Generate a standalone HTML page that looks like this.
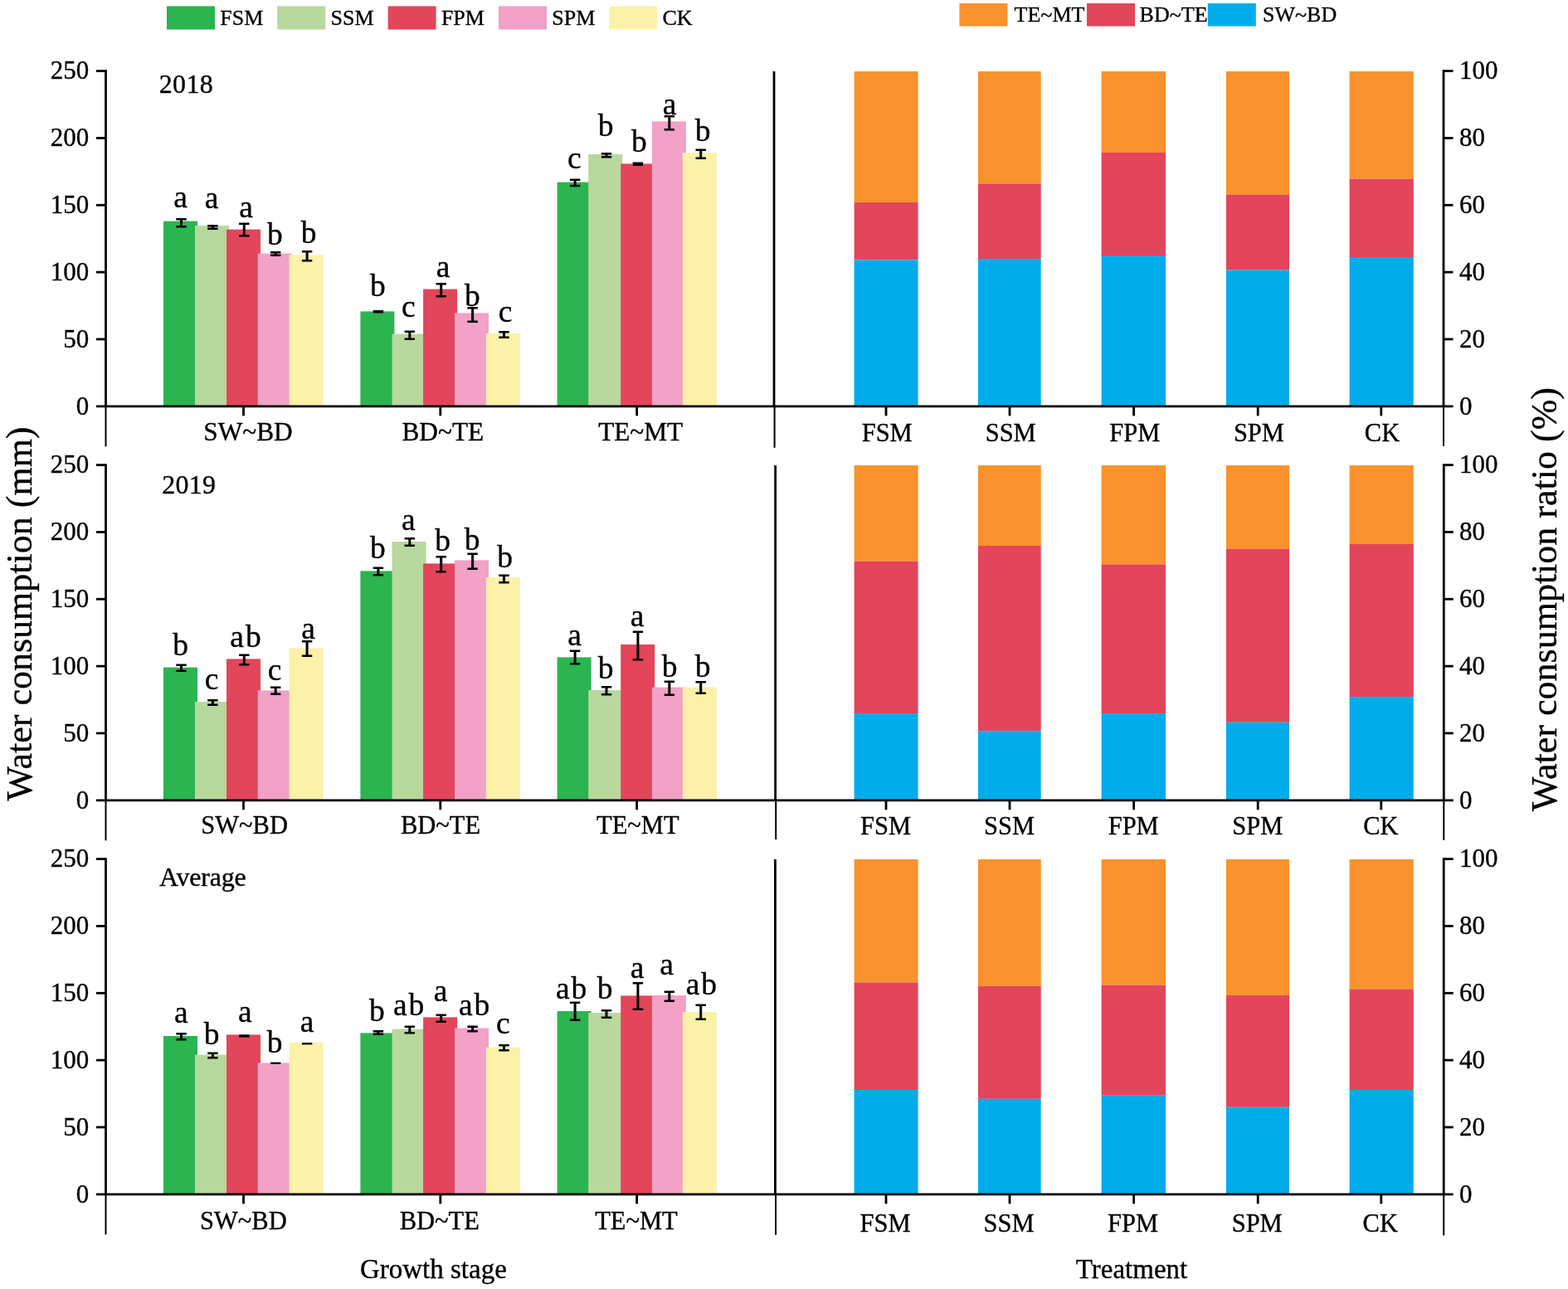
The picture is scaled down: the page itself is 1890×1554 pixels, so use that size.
<!DOCTYPE html>
<html lang="en"><head><meta charset="utf-8">
<title>Water consumption and water consumption ratio by growth stage and treatment</title>
<style>
html,body{margin:0;padding:0;background:#fff;}
body{width:1890px;height:1554px;overflow:hidden;}
svg{display:block;}
text{font-family:"Liberation Serif", "Times New Roman", Times, serif;fill:#000;stroke:#000;stroke-width:0.35px;}
.tk{font-size:31px;}
.xl{font-size:30.5px;text-anchor:middle;}
.lg{font-size:26px;}
.lt{font-size:37.5px;text-anchor:middle;}
.l2{letter-spacing:2px;}
.x1{font-size:31.3px;}
.ti{font-size:44px;text-anchor:middle;}
.bt{font-size:33px;text-anchor:middle;}
.pl{font-size:32px;letter-spacing:0.3px;}
.pa{letter-spacing:-0.2px;}
.ax{stroke:#000;stroke-width:2.8;fill:none;}
.ax2{stroke:#000;stroke-width:2;fill:none;}
.eb{stroke:#000;stroke-width:2.5;fill:none;}
.es{stroke:#000;stroke-width:3;fill:none;}
</style></head><body>
<svg width="1890" height="1554" viewBox="0 0 1890 1554" role="img" aria-label="Water consumption and water consumption ratio charts">
<rect x="0" y="0" width="1890" height="1554" fill="#ffffff"/>
<g id="legend-left">
<rect x="201" y="7.4" width="58" height="28.2" fill="#2cb450"/>
<text class="lg" x="265.3" y="30">FSM</text>
<rect x="334.2" y="7.4" width="58" height="28.2" fill="#b8d89d"/>
<text class="lg" x="398.5" y="30">SSM</text>
<rect x="467.6" y="7.4" width="58" height="28.2" fill="#e3455a"/>
<text class="lg" x="531.9" y="30">FPM</text>
<rect x="601" y="7.4" width="58" height="28.2" fill="#f2a1c7"/>
<text class="lg" x="665.3" y="30">SPM</text>
<rect x="734.2" y="7.4" width="58" height="28.2" fill="#fbf1a9"/>
<text class="lg" x="798.5" y="30">CK</text>
</g>
<g id="legend-right">
<rect x="1156.4" y="4" width="58" height="27.6" fill="#fa922d"/>
<text class="lg" x="1222.6" y="26.4">TE~MT</text>
<rect x="1310" y="4" width="58" height="27.6" fill="#e3455a"/>
<text class="lg" x="1373.6" y="26.4">BD~TE</text>
<rect x="1455.8" y="4" width="58" height="27.6" fill="#00adea"/>
<text class="lg" x="1522" y="26.4">SW~BD</text>
</g>
<g id="panel-1">
<rect x="197" y="266.6" width="41" height="223.2" fill="#2cb450"/>
<rect x="235" y="272" width="41" height="217.8" fill="#b8d89d"/>
<rect x="273" y="276.6" width="41" height="213.2" fill="#e3455a"/>
<rect x="310.7" y="305.6" width="41" height="184.2" fill="#f2a1c7"/>
<rect x="348.6" y="307.4" width="40.9" height="182.4" fill="#fbf1a9"/>
<rect x="434.4" y="375.4" width="41" height="114.4" fill="#2cb450"/>
<rect x="472.6" y="402.6" width="41" height="87.2" fill="#b8d89d"/>
<rect x="510.1" y="348.6" width="41" height="141.2" fill="#e3455a"/>
<rect x="548" y="377.4" width="41" height="112.4" fill="#f2a1c7"/>
<rect x="585.8" y="402" width="41.2" height="87.8" fill="#fbf1a9"/>
<rect x="671.6" y="219.6" width="41" height="270.2" fill="#2cb450"/>
<rect x="709.2" y="186" width="41" height="303.8" fill="#b8d89d"/>
<rect x="748.2" y="197.4" width="41" height="292.4" fill="#e3455a"/>
<rect x="785.9" y="146.4" width="41" height="343.4" fill="#f2a1c7"/>
<rect x="822.8" y="184.4" width="41.2" height="305.4" fill="#fbf1a9"/>
<path class="eb" d="M212.3 264.25H224.7M212.3 273.15H224.7"/>
<path class="es" d="M218.5 264.25V273.15"/>
<path class="eb" d="M250.2 272.25H262.6M250.2 275.75H262.6"/>
<path class="es" d="M256.4 272.25V275.75"/>
<path class="eb" d="M288.1 269.85H300.5M288.1 284.15H300.5"/>
<path class="es" d="M294.3 269.85V284.15"/>
<path class="eb" d="M326 304.25H338.4M326 307.75H338.4"/>
<path class="es" d="M332.2 304.25V307.75"/>
<path class="eb" d="M363.9 303.25H376.3M363.9 314.35H376.3"/>
<path class="es" d="M370.1 303.25V314.35"/>
<path class="eb" d="M449.7 375.25H462.1M449.7 376.35H462.1"/>
<path class="es" d="M455.9 375.25V376.35"/>
<path class="eb" d="M487.6 399.85H500M487.6 408.75H500"/>
<path class="es" d="M493.8 399.85V408.75"/>
<path class="eb" d="M525.5 342.25H537.9M525.5 357.15H537.9"/>
<path class="es" d="M531.7 342.25V357.15"/>
<path class="eb" d="M563.4 371.25H575.8M563.4 387.75H575.8"/>
<path class="es" d="M569.6 371.25V387.75"/>
<path class="eb" d="M601.3 400.25H613.7M601.3 406.75H613.7"/>
<path class="es" d="M607.5 400.25V406.75"/>
<path class="eb" d="M686.9 216.85H699.3M686.9 223.95H699.3"/>
<path class="es" d="M693.1 216.85V223.95"/>
<path class="eb" d="M724.8 185.25H737.2M724.8 189.35H737.2"/>
<path class="es" d="M731 185.25V189.35"/>
<path class="eb" d="M762.7 196.85H775.1M762.7 198.75H775.1"/>
<path class="es" d="M768.9 196.85V198.75"/>
<path class="eb" d="M800.6 140.25H813M800.6 156.15H813"/>
<path class="es" d="M806.8 140.25V156.15"/>
<path class="eb" d="M838.5 180.65H850.9M838.5 190.75H850.9"/>
<path class="es" d="M844.7 180.65V190.75"/>
<text class="lt" x="217.6" y="249.7">a</text>
<text class="lt" x="255" y="250.7">a</text>
<text class="lt" x="296.6" y="261.7">a</text>
<text class="lt" x="331.4" y="294.7">b</text>
<text class="lt" x="372" y="292.7">b</text>
<text class="lt" x="455.4" y="356.7">b</text>
<text class="lt" x="492.4" y="381.7">c</text>
<text class="lt" x="534" y="334.3">a</text>
<text class="lt" x="569.4" y="368.7">b</text>
<text class="lt" x="609" y="388.3">c</text>
<text class="lt" x="692.4" y="202.7">c</text>
<text class="lt" x="730" y="163.7">b</text>
<text class="lt" x="770.4" y="183.1">b</text>
<text class="lt" x="807" y="138.3">a</text>
<text class="lt" x="847" y="170.3">b</text>
<rect x="1029.6" y="86" width="77" height="158" fill="#fa922d"/>
<rect x="1029.6" y="244" width="77" height="69.4" fill="#e3455a"/>
<rect x="1029.6" y="313.4" width="77" height="176.4" fill="#00adea"/>
<rect x="1179" y="86" width="75.7" height="135.4" fill="#fa922d"/>
<rect x="1179" y="221.4" width="75.7" height="90.6" fill="#e3455a"/>
<rect x="1179" y="312" width="75.7" height="177.8" fill="#00adea"/>
<rect x="1327.6" y="86" width="77.5" height="98" fill="#fa922d"/>
<rect x="1327.6" y="184" width="77.5" height="124" fill="#e3455a"/>
<rect x="1327.6" y="308" width="77.5" height="181.8" fill="#00adea"/>
<rect x="1478" y="86" width="76" height="148.6" fill="#fa922d"/>
<rect x="1478" y="234.6" width="76" height="91" fill="#e3455a"/>
<rect x="1478" y="325.6" width="76" height="164.2" fill="#00adea"/>
<rect x="1626.6" y="86" width="77.2" height="129.6" fill="#fa922d"/>
<rect x="1626.6" y="215.6" width="77.2" height="94.4" fill="#e3455a"/>
<rect x="1626.6" y="310" width="77.2" height="179.8" fill="#00adea"/>
<path class="ax" d="M116 489.8H1751.5"/>
<path class="ax" d="M127.5 84.2V489.8"/>
<path class="ax" d="M933 86V489.8"/>
<path class="ax" d="M1740 84.2V489.8"/>
<path class="ax2" d="M127.5 489.8V538.3"/>
<path class="ax2" d="M933.6 489.8V539.8"/>
<path class="ax2" d="M1740 489.8V537.8"/>
<text class="tk" text-anchor="end" x="107.3" y="499.6">0</text>
<path class="ax" d="M116 408.96H127.5"/>
<text class="tk" text-anchor="end" x="107.3" y="418.76">50</text>
<path class="ax" d="M116 328.12H127.5"/>
<text class="tk" text-anchor="end" x="107.3" y="337.92">100</text>
<path class="ax" d="M116 247.28H127.5"/>
<text class="tk" text-anchor="end" x="107.3" y="257.08">150</text>
<path class="ax" d="M116 166.44H127.5"/>
<text class="tk" text-anchor="end" x="107.3" y="176.24">200</text>
<path class="ax" d="M116 85.6H127.5"/>
<text class="tk" text-anchor="end" x="107.3" y="95.4">250</text>
<text class="tk" x="1759" y="499.6">0</text>
<path class="ax" d="M1740 408.96H1751.5"/>
<text class="tk" x="1759" y="418.76">20</text>
<path class="ax" d="M1740 328.12H1751.5"/>
<text class="tk" x="1759" y="337.92">40</text>
<path class="ax" d="M1740 247.28H1751.5"/>
<text class="tk" x="1759" y="257.08">60</text>
<path class="ax" d="M1740 166.44H1751.5"/>
<text class="tk" x="1759" y="176.24">80</text>
<path class="ax" d="M1740 85.6H1751.5"/>
<text class="tk" x="1759" y="95.4">100</text>
<path class="ax" d="M293.5 489.8V501.3"/>
<path class="ax" d="M530.8 489.8V501.3"/>
<path class="ax" d="M767.6 489.8V501.3"/>
<path class="ax" d="M1068 489.8V501.3"/>
<path class="ax" d="M1217 489.8V501.3"/>
<path class="ax" d="M1366.6 489.8V501.3"/>
<path class="ax" d="M1516.2 489.8V501.3"/>
<path class="ax" d="M1664.8 489.8V501.3"/>
<text class="xl x1" x="299" y="530.5">SW~BD</text>
<text class="xl x1" x="533.8" y="530.5">BD~TE</text>
<text class="xl x1" x="772.2" y="530.5">TE~MT</text>
<text class="xl" x="1069.2" y="531.6">FSM</text>
<text class="xl" x="1218.2" y="531.6">SSM</text>
<text class="xl" x="1367.8" y="531.6">FPM</text>
<text class="xl" x="1517.4" y="531.6">SPM</text>
<text class="xl" x="1666" y="531.6">CK</text>
<text class="pl" x="191.8" y="112.4">2018</text>
</g>
<g id="panel-2">
<rect x="197" y="804.6" width="41" height="160.2" fill="#2cb450"/>
<rect x="235" y="846" width="41" height="118.8" fill="#b8d89d"/>
<rect x="273" y="794.4" width="41" height="170.4" fill="#e3455a"/>
<rect x="310.7" y="832.4" width="41" height="132.4" fill="#f2a1c7"/>
<rect x="348.6" y="781.4" width="40.9" height="183.4" fill="#fbf1a9"/>
<rect x="434.4" y="688.4" width="41" height="276.4" fill="#2cb450"/>
<rect x="472.6" y="653" width="41" height="311.8" fill="#b8d89d"/>
<rect x="510.1" y="679.4" width="41" height="285.4" fill="#e3455a"/>
<rect x="548" y="675.4" width="41" height="289.4" fill="#f2a1c7"/>
<rect x="585.8" y="696" width="41.2" height="268.8" fill="#fbf1a9"/>
<rect x="671.6" y="792.4" width="41" height="172.4" fill="#2cb450"/>
<rect x="709.2" y="832" width="41" height="132.8" fill="#b8d89d"/>
<rect x="748.2" y="777" width="41" height="187.8" fill="#e3455a"/>
<rect x="785.9" y="828.6" width="41" height="136.2" fill="#f2a1c7"/>
<rect x="822.8" y="828.6" width="41.2" height="136.2" fill="#fbf1a9"/>
<path class="eb" d="M212.3 801.65H224.7M212.3 808.75H224.7"/>
<path class="es" d="M218.5 801.65V808.75"/>
<path class="eb" d="M250.2 844.25H262.6M250.2 849.75H262.6"/>
<path class="es" d="M256.4 844.25V849.75"/>
<path class="eb" d="M288.1 789.85H300.5M288.1 801.15H300.5"/>
<path class="es" d="M294.3 789.85V801.15"/>
<path class="eb" d="M326 828.65H338.4M326 836.75H338.4"/>
<path class="es" d="M332.2 828.65V836.75"/>
<path class="eb" d="M363.9 773.25H376.3M363.9 790.75H376.3"/>
<path class="es" d="M370.1 773.25V790.75"/>
<path class="eb" d="M449.7 684.85H462.1M449.7 693.35H462.1"/>
<path class="es" d="M455.9 684.85V693.35"/>
<path class="eb" d="M487.6 649.25H500M487.6 657.75H500"/>
<path class="es" d="M493.8 649.25V657.75"/>
<path class="eb" d="M525.5 671.25H537.9M525.5 689.15H537.9"/>
<path class="es" d="M531.7 671.25V689.15"/>
<path class="eb" d="M563.4 667.65H575.8M563.4 685.75H575.8"/>
<path class="es" d="M569.6 667.65V685.75"/>
<path class="eb" d="M601.3 693.85H613.7M601.3 702.35H613.7"/>
<path class="es" d="M607.5 693.85V702.35"/>
<path class="eb" d="M686.9 784.85H699.3M686.9 800.35H699.3"/>
<path class="es" d="M693.1 784.85V800.35"/>
<path class="eb" d="M724.8 828.25H737.2M724.8 837.15H737.2"/>
<path class="es" d="M731 828.25V837.15"/>
<path class="eb" d="M762.7 761.85H775.1M762.7 795.35H775.1"/>
<path class="es" d="M768.9 761.85V795.35"/>
<path class="eb" d="M800.6 821.85H813M800.6 837.75H813"/>
<path class="es" d="M806.8 821.85V837.75"/>
<path class="eb" d="M838.5 822.25H850.9M838.5 835.75H850.9"/>
<path class="es" d="M844.7 822.25V835.75"/>
<text class="lt" x="217.6" y="789.7">b</text>
<text class="lt" x="255" y="830.7">c</text>
<text class="lt l2" x="297" y="780.1">ab</text>
<text class="lt" x="331" y="819.7">c</text>
<text class="lt" x="371.6" y="769.7">a</text>
<text class="lt" x="455.4" y="672.7">b</text>
<text class="lt" x="492.4" y="638.7">a</text>
<text class="lt" x="533.6" y="664.1">b</text>
<text class="lt" x="569" y="662.7">b</text>
<text class="lt" x="608.6" y="683.7">b</text>
<text class="lt" x="692.6" y="777.7">a</text>
<text class="lt" x="730.2" y="817.7">b</text>
<text class="lt" x="768" y="755.3">a</text>
<text class="lt" x="807" y="816.1">b</text>
<text class="lt" x="847" y="816.1">b</text>
<rect x="1029.6" y="561" width="77" height="115.8" fill="#fa922d"/>
<rect x="1029.6" y="676.8" width="77" height="183.2" fill="#e3455a"/>
<rect x="1029.6" y="860" width="77" height="104.8" fill="#00adea"/>
<rect x="1179" y="561" width="75.7" height="97" fill="#fa922d"/>
<rect x="1179" y="658" width="75.7" height="223.2" fill="#e3455a"/>
<rect x="1179" y="881.2" width="75.7" height="83.6" fill="#00adea"/>
<rect x="1327.6" y="561" width="77.5" height="119.4" fill="#fa922d"/>
<rect x="1327.6" y="680.4" width="77.5" height="179.6" fill="#e3455a"/>
<rect x="1327.6" y="860" width="77.5" height="104.8" fill="#00adea"/>
<rect x="1478" y="561" width="76" height="100.6" fill="#fa922d"/>
<rect x="1478" y="661.6" width="76" height="209.2" fill="#e3455a"/>
<rect x="1478" y="870.8" width="76" height="94" fill="#00adea"/>
<rect x="1626.6" y="561" width="77.2" height="95" fill="#fa922d"/>
<rect x="1626.6" y="656" width="77.2" height="184" fill="#e3455a"/>
<rect x="1626.6" y="840" width="77.2" height="124.8" fill="#00adea"/>
<path class="ax" d="M116 964.8H1751.8"/>
<path class="ax" d="M127.5 559.2V964.8"/>
<path class="ax" d="M934.6 561V964.8"/>
<path class="ax" d="M1740.3 559.2V964.8"/>
<path class="ax2" d="M127.5 964.8V1013.3"/>
<path class="ax2" d="M935.2 964.8V1012"/>
<path class="ax2" d="M1740.3 964.8V1012.8"/>
<text class="tk" text-anchor="end" x="107.3" y="974.6">0</text>
<path class="ax" d="M116 883.96H127.5"/>
<text class="tk" text-anchor="end" x="107.3" y="893.76">50</text>
<path class="ax" d="M116 803.12H127.5"/>
<text class="tk" text-anchor="end" x="107.3" y="812.92">100</text>
<path class="ax" d="M116 722.28H127.5"/>
<text class="tk" text-anchor="end" x="107.3" y="732.08">150</text>
<path class="ax" d="M116 641.44H127.5"/>
<text class="tk" text-anchor="end" x="107.3" y="651.24">200</text>
<path class="ax" d="M116 560.6H127.5"/>
<text class="tk" text-anchor="end" x="107.3" y="570.4">250</text>
<text class="tk" x="1759" y="974.6">0</text>
<path class="ax" d="M1740.3 883.96H1751.8"/>
<text class="tk" x="1759" y="893.76">20</text>
<path class="ax" d="M1740.3 803.12H1751.8"/>
<text class="tk" x="1759" y="812.92">40</text>
<path class="ax" d="M1740.3 722.28H1751.8"/>
<text class="tk" x="1759" y="732.08">60</text>
<path class="ax" d="M1740.3 641.44H1751.8"/>
<text class="tk" x="1759" y="651.24">80</text>
<path class="ax" d="M1740.3 560.6H1751.8"/>
<text class="tk" x="1759" y="570.4">100</text>
<path class="ax" d="M293.5 964.8V976.3"/>
<path class="ax" d="M530.8 964.8V976.3"/>
<path class="ax" d="M767.6 964.8V976.3"/>
<path class="ax" d="M1068 964.8V976.3"/>
<path class="ax" d="M1217 964.8V976.3"/>
<path class="ax" d="M1366.6 964.8V976.3"/>
<path class="ax" d="M1516.2 964.8V976.3"/>
<path class="ax" d="M1664.8 964.8V976.3"/>
<text class="xl" x="294.6" y="1005.2">SW~BD</text>
<text class="xl" x="531" y="1005.2">BD~TE</text>
<text class="xl" x="768.8" y="1005.2">TE~MT</text>
<text class="xl" x="1067.6" y="1006">FSM</text>
<text class="xl" x="1216.6" y="1006">SSM</text>
<text class="xl" x="1366.2" y="1006">FPM</text>
<text class="xl" x="1515.8" y="1006">SPM</text>
<text class="xl" x="1664.4" y="1006">CK</text>
<text class="pl" x="195.2" y="595.3">2019</text>
</g>
<g id="panel-3">
<rect x="197" y="1249" width="41" height="190.8" fill="#2cb450"/>
<rect x="235" y="1271.6" width="41" height="168.2" fill="#b8d89d"/>
<rect x="273" y="1247.4" width="41" height="192.4" fill="#e3455a"/>
<rect x="310.7" y="1281.4" width="41" height="158.4" fill="#f2a1c7"/>
<rect x="348.6" y="1257" width="40.9" height="182.8" fill="#fbf1a9"/>
<rect x="434.4" y="1245.4" width="41" height="194.4" fill="#2cb450"/>
<rect x="472.6" y="1240.6" width="41" height="199.2" fill="#b8d89d"/>
<rect x="510.1" y="1226.4" width="41" height="213.4" fill="#e3455a"/>
<rect x="548" y="1239.6" width="41" height="200.2" fill="#f2a1c7"/>
<rect x="585.8" y="1262.6" width="41.2" height="177.2" fill="#fbf1a9"/>
<rect x="671.6" y="1219" width="41" height="220.8" fill="#2cb450"/>
<rect x="709.2" y="1221" width="41" height="218.8" fill="#b8d89d"/>
<rect x="748.2" y="1200.4" width="41" height="239.4" fill="#e3455a"/>
<rect x="785.9" y="1200" width="41" height="239.8" fill="#f2a1c7"/>
<rect x="822.8" y="1220" width="41.2" height="219.8" fill="#fbf1a9"/>
<path class="eb" d="M212.3 1246.25H224.7M212.3 1253.15H224.7"/>
<path class="es" d="M218.5 1246.25V1253.15"/>
<path class="eb" d="M250.2 1269.85H262.6M250.2 1275.35H262.6"/>
<path class="es" d="M256.4 1269.85V1275.35"/>
<rect x="288.1" y="1247.4" width="12.4" height="3.2" fill="#000"/>
<rect x="326" y="1280.6" width="12.4" height="2.2" fill="#000"/>
<rect x="363.9" y="1257" width="12.4" height="2.4" fill="#000"/>
<path class="eb" d="M449.7 1243.25H462.1M449.7 1246.75H462.1"/>
<path class="es" d="M455.9 1243.25V1246.75"/>
<path class="eb" d="M487.6 1237.65H500M487.6 1245.15H500"/>
<path class="es" d="M493.8 1237.65V1245.15"/>
<path class="eb" d="M525.5 1223.85H537.9M525.5 1231.75H537.9"/>
<path class="es" d="M531.7 1223.85V1231.75"/>
<path class="eb" d="M563.4 1237.85H575.8M563.4 1243.15H575.8"/>
<path class="es" d="M569.6 1237.85V1243.15"/>
<path class="eb" d="M601.3 1260.25H613.7M601.3 1266.35H613.7"/>
<path class="es" d="M607.5 1260.25V1266.35"/>
<path class="eb" d="M686.9 1208.65H699.3M686.9 1229.75H699.3"/>
<path class="es" d="M693.1 1208.65V1229.75"/>
<path class="eb" d="M724.8 1218.25H737.2M724.8 1226.75H737.2"/>
<path class="es" d="M731 1218.25V1226.75"/>
<path class="eb" d="M762.7 1185.25H775.1M762.7 1216.75H775.1"/>
<path class="es" d="M768.9 1185.25V1216.75"/>
<path class="eb" d="M800.6 1195.85H813M800.6 1206.75H813"/>
<path class="es" d="M806.8 1195.85V1206.75"/>
<path class="eb" d="M838.5 1211.65H850.9M838.5 1228.75H850.9"/>
<path class="es" d="M844.7 1211.65V1228.75"/>
<text class="lt" x="218.4" y="1232.7">a</text>
<text class="lt" x="255" y="1258.7">b</text>
<text class="lt" x="295.4" y="1231.7">a</text>
<text class="lt" x="331" y="1268.7">b</text>
<text class="lt" x="370" y="1244.3">a</text>
<text class="lt" x="454.4" y="1230.7">b</text>
<text class="lt l2" x="493.6" y="1224.3">ab</text>
<text class="lt" x="531" y="1206.7">a</text>
<text class="lt l2" x="572.6" y="1224.3">ab</text>
<text class="lt" x="606.4" y="1245.7">c</text>
<text class="lt l2" x="689.6" y="1203.7">ab</text>
<text class="lt" x="729" y="1203.7">b</text>
<text class="lt" x="768" y="1178.7">a</text>
<text class="lt" x="803.6" y="1174.7">a</text>
<text class="lt l2" x="846.4" y="1198.7">ab</text>
<rect x="1029.6" y="1036" width="77" height="148.4" fill="#fa922d"/>
<rect x="1029.6" y="1184.4" width="77" height="129.6" fill="#e3455a"/>
<rect x="1029.6" y="1314" width="77" height="125.8" fill="#00adea"/>
<rect x="1179" y="1036" width="75.7" height="152.8" fill="#fa922d"/>
<rect x="1179" y="1188.8" width="75.7" height="136" fill="#e3455a"/>
<rect x="1179" y="1324.8" width="75.7" height="115" fill="#00adea"/>
<rect x="1327.6" y="1036" width="77.5" height="151.6" fill="#fa922d"/>
<rect x="1327.6" y="1187.6" width="77.5" height="133.2" fill="#e3455a"/>
<rect x="1327.6" y="1320.8" width="77.5" height="119" fill="#00adea"/>
<rect x="1478" y="1036" width="76" height="164" fill="#fa922d"/>
<rect x="1478" y="1200" width="76" height="134.8" fill="#e3455a"/>
<rect x="1478" y="1334.8" width="76" height="105" fill="#00adea"/>
<rect x="1626.6" y="1036" width="77.2" height="156.4" fill="#fa922d"/>
<rect x="1626.6" y="1192.4" width="77.2" height="121.6" fill="#e3455a"/>
<rect x="1626.6" y="1314" width="77.2" height="125.8" fill="#00adea"/>
<path class="ax" d="M116 1439.8H1751.7"/>
<path class="ax" d="M127.5 1034.2V1439.8"/>
<path class="ax" d="M934.4 1036V1439.8"/>
<path class="ax" d="M1740.2 1034.2V1439.8"/>
<path class="ax2" d="M127.5 1439.8V1488.3"/>
<path class="ax2" d="M935 1439.8V1488.8"/>
<path class="ax2" d="M1740.2 1439.8V1489.4"/>
<text class="tk" text-anchor="end" x="107.3" y="1449.6">0</text>
<path class="ax" d="M116 1358.96H127.5"/>
<text class="tk" text-anchor="end" x="107.3" y="1368.76">50</text>
<path class="ax" d="M116 1278.12H127.5"/>
<text class="tk" text-anchor="end" x="107.3" y="1287.92">100</text>
<path class="ax" d="M116 1197.28H127.5"/>
<text class="tk" text-anchor="end" x="107.3" y="1207.08">150</text>
<path class="ax" d="M116 1116.44H127.5"/>
<text class="tk" text-anchor="end" x="107.3" y="1126.24">200</text>
<path class="ax" d="M116 1035.6H127.5"/>
<text class="tk" text-anchor="end" x="107.3" y="1045.4">250</text>
<text class="tk" x="1759" y="1449.6">0</text>
<path class="ax" d="M1740.2 1358.96H1751.7"/>
<text class="tk" x="1759" y="1368.76">20</text>
<path class="ax" d="M1740.2 1278.12H1751.7"/>
<text class="tk" x="1759" y="1287.92">40</text>
<path class="ax" d="M1740.2 1197.28H1751.7"/>
<text class="tk" x="1759" y="1207.08">60</text>
<path class="ax" d="M1740.2 1116.44H1751.7"/>
<text class="tk" x="1759" y="1126.24">80</text>
<path class="ax" d="M1740.2 1035.6H1751.7"/>
<text class="tk" x="1759" y="1045.4">100</text>
<path class="ax" d="M293.5 1439.8V1451.3"/>
<path class="ax" d="M530.8 1439.8V1451.3"/>
<path class="ax" d="M767.6 1439.8V1451.3"/>
<path class="ax" d="M1068 1439.8V1451.3"/>
<path class="ax" d="M1217 1439.8V1451.3"/>
<path class="ax" d="M1366.6 1439.8V1451.3"/>
<path class="ax" d="M1516.2 1439.8V1451.3"/>
<path class="ax" d="M1664.8 1439.8V1451.3"/>
<text class="xl" x="293.4" y="1481.6">SW~BD</text>
<text class="xl" x="529.8" y="1481.6">BD~TE</text>
<text class="xl" x="767" y="1481.6">TE~MT</text>
<text class="xl" x="1067" y="1485.4">FSM</text>
<text class="xl" x="1216" y="1485.4">SSM</text>
<text class="xl" x="1365.6" y="1485.4">FPM</text>
<text class="xl" x="1515.2" y="1485.4">SPM</text>
<text class="xl" x="1663.8" y="1485.4">CK</text>
<text class="pl pa" x="192" y="1068.2">Average</text>
</g>
<text class="ti" transform="translate(37.5 740) rotate(-90)">Water consumption (mm)</text>
<text class="ti" transform="translate(1875.7 722.5) rotate(-90)">Water consumption ratio (%)</text>
<text class="bt" x="522.4" y="1541">Growth stage</text>
<text class="bt" x="1364" y="1541">Treatment</text>
</svg>
</body></html>
